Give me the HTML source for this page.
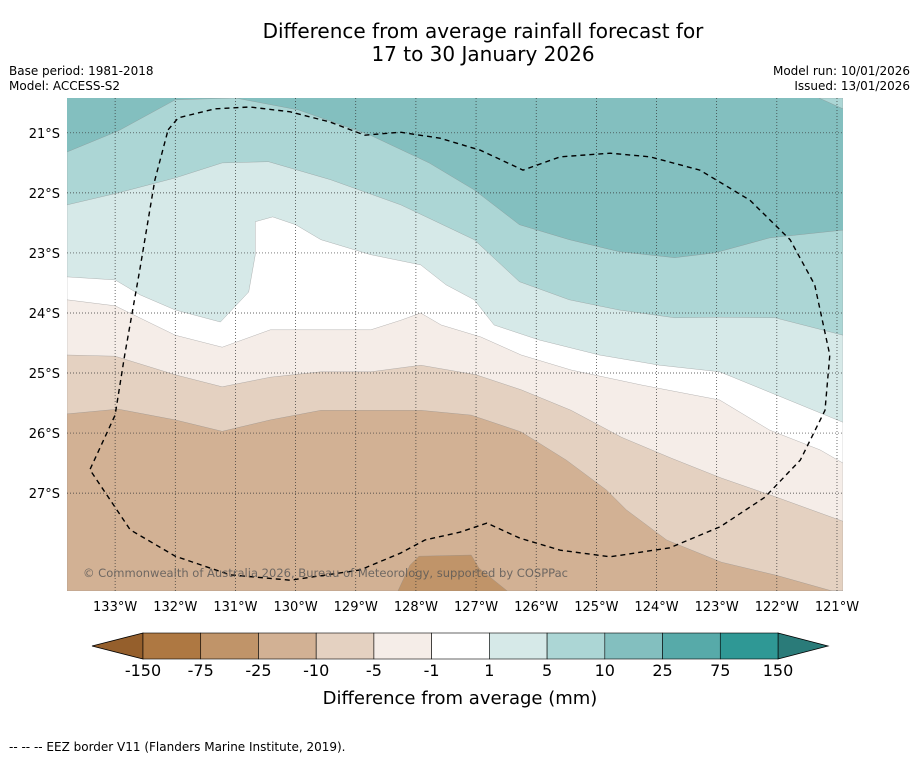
<!DOCTYPE html>
<html><head><meta charset="utf-8"><style>
body{margin:0;background:#fff;font-family:"Liberation Sans","DejaVu Sans",sans-serif;}
</style></head><body>
<svg width="919" height="758" viewBox="0 0 919 758" xmlns="http://www.w3.org/2000/svg" font-family="DejaVu Sans, Liberation Sans, sans-serif">
<text x="483" y="38" text-anchor="middle" font-size="20" fill="#000">Difference from average rainfall forecast for</text>
<text x="483" y="61" text-anchor="middle" font-size="20" fill="#000">17 to 30 January 2026</text>
<text x="9" y="75" font-size="12">Base period: 1981-2018</text>
<text x="9" y="90" font-size="12">Model: ACCESS-S2</text>
<text x="910" y="75" font-size="12" text-anchor="end">Model run: 10/01/2026</text>
<text x="910" y="90" font-size="12" text-anchor="end">Issued: 13/01/2026</text>
<defs><clipPath id="mc"><rect x="67" y="98" width="776" height="493"/></clipPath></defs>
<g id="map" clip-path="url(#mc)"></g>
<g id="axes"></g>
<text x="83" y="577" font-size="11.5" textLength="485" lengthAdjust="spacingAndGlyphs" fill="#555" fill-opacity="0.8">© Commonwealth of Australia 2026, Bureau of Meteorology, supported by COSPPac</text>
<g id="cbar"></g>
<text x="460" y="704" text-anchor="middle" font-size="18">Difference from average (mm)</text>
<text x="9" y="751" font-size="12">--  --  -- EEZ border V11 (Flanders Marine Institute, 2019).</text>
</svg>
<script>
// axis ranges
const lonMin=-133.8, lonMax=-120.9, latTop=-20.42, latBot=-28.63;
const lonTicks=[-133,-132,-131,-130,-129,-128,-127,-126,-125,-124,-123,-122,-121];
const latTicks=[-21,-22,-23,-24,-25,-26,-27];
const levels=[-150,-75,-25,-10,-5,-1,1,5,10,25,75,150];
const levelColors=["#ae7842","#c09469","#d2b194","#e4d1c1","#f5ede8","#ffffff","#d6e9e8","#acd6d5","#83bfbf","#57aaa9","#2f9895"];
// contour boundaries (lon, lat pairs), from top to bottom
const bTop=[[-133.8,-21.32],[-132.95,-20.97],[-132.0,-20.45],[-131.0,-20.42],[-129.95,-20.62],[-128.78,-21.03],[-127.78,-21.5],[-127.03,-21.95],[-126.28,-22.53],[-125.45,-22.78],[-124.62,-22.98],[-123.7,-23.08],[-123.03,-23.0],[-122.12,-22.75],[-120.9,-22.62]];
const b2=[[-133.8,-22.2],[-132.95,-22.0],[-132.0,-21.75],[-131.22,-21.5],[-130.45,-21.48],[-129.42,-21.78],[-128.25,-22.2],[-127.03,-22.78],[-126.28,-23.48],[-125.45,-23.78],[-124.62,-23.95],[-123.7,-24.08],[-122.95,-24.07],[-122.03,-24.08],[-120.9,-24.37]];
const b3=[[-133.8,-23.4],[-133.0,-23.45],[-132.58,-23.7],[-132.0,-23.95],[-131.25,-24.15],[-130.78,-23.65],[-130.67,-23.03],[-130.67,-22.48],[-130.38,-22.4],[-130.0,-22.53],[-129.58,-22.78],[-128.75,-23.03],[-127.92,-23.2],[-127.5,-23.53],[-127.03,-23.78],[-126.7,-24.2],[-125.95,-24.45],[-124.95,-24.7],[-123.95,-24.87],[-122.95,-24.98],[-122.12,-25.32],[-120.9,-25.82]];
const b4=[[-133.8,-23.78],[-133.0,-23.88],[-132.0,-24.37],[-131.22,-24.57],[-130.42,-24.28],[-128.75,-24.28],[-128.25,-24.12],[-127.92,-24.0],[-127.58,-24.2],[-126.92,-24.4],[-126.25,-24.7],[-125.42,-24.95],[-124.25,-25.2],[-122.95,-25.45],[-122.12,-25.95],[-121.28,-26.28],[-120.9,-26.5]];
const b5=[[-133.8,-24.7],[-133.0,-24.72],[-132.0,-25.03],[-131.22,-25.23],[-130.42,-25.07],[-129.58,-24.98],[-128.75,-24.98],[-127.92,-24.87],[-127.0,-25.03],[-126.25,-25.28],[-125.42,-25.62],[-124.58,-26.07],[-123.75,-26.42],[-122.92,-26.75],[-122.0,-27.07],[-120.9,-27.47]];
const b6=[[-133.8,-25.68],[-132.95,-25.6],[-132.0,-25.78],[-131.22,-25.97],[-130.42,-25.78],[-129.58,-25.62],[-127.92,-25.62],[-127.08,-25.7],[-126.25,-25.98],[-125.5,-26.45],[-124.83,-26.95],[-124.5,-27.28],[-123.83,-27.78],[-122.92,-28.15],[-122.0,-28.37],[-121.08,-28.63]];
const b7=[[-128.3,-28.63],[-128.1,-28.2],[-127.95,-28.05],[-127.08,-28.03],[-126.95,-28.25],[-126.48,-28.63]];
const eez=[[-132.12,-20.95],[-131.95,-20.75],[-131.34,-20.60],[-130.76,-20.57],[-130.09,-20.65],[-129.43,-20.82],[-128.85,-21.04],[-128.26,-20.99],[-127.60,-21.09],[-126.93,-21.29],[-126.22,-21.62],[-125.60,-21.40],[-124.77,-21.34],[-124.11,-21.40],[-123.28,-21.62],[-122.45,-22.12],[-121.78,-22.78],[-121.37,-23.53],[-121.12,-24.70],[-121.20,-25.62],[-121.61,-26.45],[-122.20,-27.07],[-122.94,-27.56],[-123.78,-27.91],[-124.77,-28.06],[-125.60,-27.95],[-126.27,-27.75],[-126.82,-27.50],[-127.27,-27.65],[-127.85,-27.78],[-128.26,-28.00],[-128.93,-28.28],[-130.09,-28.45],[-131.09,-28.36],[-132.00,-28.05],[-132.75,-27.61],[-133.42,-26.61],[-133.00,-25.70],[-132.84,-24.70],[-132.59,-23.28],[-132.34,-21.79],[-132.12,-20.95]];
const ns="http://www.w3.org/2000/svg";
const X=lon=>67+(lon-lonMin)/(lonMax-lonMin)*776;
const Y=lat=>98+(latTop-lat)/(latTop-latBot)*493;
const pts=a=>a.map(p=>X(p[0]).toFixed(1)+","+Y(p[1]).toFixed(1)).join(" ");
const map=document.getElementById('map');
function poly(arr,fill,name){const p=document.createElementNS(ns,'polygon');p.setAttribute('points',arr);p.setAttribute('fill',fill);p.setAttribute('stroke','#888');p.setAttribute('stroke-width','0.3');


map.appendChild(p);}
const bg=document.createElementNS(ns,'rect');bg.setAttribute('x',67);bg.setAttribute('y',98);bg.setAttribute('width',776);bg.setAttribute('height',493);bg.setAttribute('fill','#83bfbf');


map.appendChild(bg);
const bands=[[bTop,"#acd6d5","band-5-10"],[b2,"#d6e9e8","band-1-5"],[b3,"#ffffff","band-neg1-1"],[b4,"#f5ede8","band-neg5-neg1"],[b5,"#e4d1c1","band-neg10-neg5"],[b6,"#d2b194","band-neg25-neg10"]];
bands.forEach(b=>{let s=pts(b[0]);
poly(s+" "+X(lonMax)+","+Y(latBot)+" "+X(lonMin)+","+Y(latBot),b[1],b[2]);});
poly(pts(b7),"#c09469","band-neg75-neg25");
poly(X(-121.3)+","+Y(-20.42)+" "+X(lonMax)+","+Y(-20.42)+" "+X(lonMax)+","+Y(-20.6),"#acd6d5","band-5-10-corner");
lonTicks.forEach(l=>{const ln=document.createElementNS(ns,'line');ln.setAttribute('x1',X(l));ln.setAttribute('x2',X(l));ln.setAttribute('y1',98);ln.setAttribute('y2',591);ln.setAttribute('stroke','#333');ln.setAttribute('stroke-width','0.7');ln.setAttribute('stroke-dasharray','1,2');


map.appendChild(ln);});
latTicks.forEach(l=>{const ln=document.createElementNS(ns,'line');ln.setAttribute('y1',Y(l));ln.setAttribute('y2',Y(l));ln.setAttribute('x1',67);ln.setAttribute('x2',843);ln.setAttribute('stroke','#333');ln.setAttribute('stroke-width','0.7');ln.setAttribute('stroke-dasharray','1,2');


map.appendChild(ln);});
const e=document.createElementNS(ns,'polyline');e.setAttribute('points',pts(eez));e.setAttribute('fill','none');e.setAttribute('stroke','#000');e.setAttribute('stroke-width','1.4');e.setAttribute('stroke-dasharray','5,4');


map.appendChild(e);
const axes=document.getElementById('axes');
lonTicks.forEach(l=>{const t=document.createElementNS(ns,'text');t.setAttribute('x',X(l));t.setAttribute('y',611);t.setAttribute('text-anchor','middle');t.setAttribute('font-size','13');t.textContent=Math.abs(l)+"°W";


axes.appendChild(t);});
latTicks.forEach(l=>{const t=document.createElementNS(ns,'text');t.setAttribute('x',60);t.setAttribute('y',Y(l)+5);t.setAttribute('text-anchor','end');t.setAttribute('font-size','13');t.textContent=Math.abs(l)+"°S";


axes.appendChild(t);});
const cb=document.getElementById('cbar');
const cx0=143,cx1=778,cy0=633,cy1=659,w=(cx1-cx0)/(levels.length-1);
const lt=document.createElementNS(ns,'polygon');lt.setAttribute('points',`${cx0},${cy0} 92,646 ${cx0},${cy1}`);lt.setAttribute('fill','#955f2c');lt.setAttribute('stroke','#000');lt.setAttribute('stroke-width','0.8');


cb.appendChild(lt);
const rt=document.createElementNS(ns,'polygon');rt.setAttribute('points',`${cx1},${cy0} 828,646 ${cx1},${cy1}`);rt.setAttribute('fill','#2a7b79');rt.setAttribute('stroke','#000');rt.setAttribute('stroke-width','0.8');


cb.appendChild(rt);
levelColors.forEach((c,i)=>{const r=document.createElementNS(ns,'rect');r.setAttribute('x',cx0+i*w);r.setAttribute('y',cy0);r.setAttribute('width',w);r.setAttribute('height',cy1-cy0);r.setAttribute('fill',c);r.setAttribute('stroke','#000');r.setAttribute('stroke-width','0.6');


cb.appendChild(r);});
levels.forEach((v,i)=>{const t=document.createElementNS(ns,'text');t.setAttribute('x',cx0+i*w);t.setAttribute('y',676);t.setAttribute('text-anchor','middle');t.setAttribute('font-size','16');t.textContent=v;


cb.appendChild(t);});
</script>
</body></html>
